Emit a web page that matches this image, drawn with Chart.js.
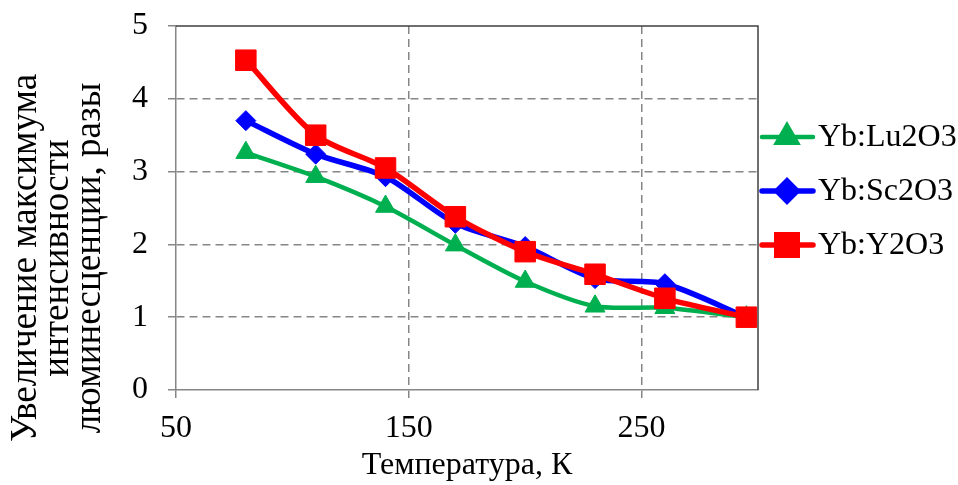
<!DOCTYPE html>
<html>
<head>
<meta charset="utf-8">
<script src="https://cdn.jsdelivr.net/npm/chart.js@4.4.1/dist/chart.umd.min.js"></script>
<style>
  html, body { margin: 0; padding: 0; background: #fff; }
  #wrap { width: 958px; height: 485px; }
</style>
</head>
<body>
<div id="wrap"><canvas id="myChart" width="958" height="485"></canvas></div>
<script>
// data
const temps = [80, 110, 140, 170, 200, 230, 260, 295]
const lu2o3 = [3.26, 2.93, 2.52, 1.99, 1.49, 1.15, 1.13, 1.0]
const sc2o3 = [3.70, 3.24, 2.93, 2.29, 1.97, 1.53, 1.46, 1.0]
const y2o3 = [4.53, 3.50, 3.05, 2.38, 1.90, 1.59, 1.26, 1.0]
const seriesNames = ["Yb:Lu2O3", "Yb:Sc2O3", "Yb:Y2O3"]
const xTickValues = [50, 150, 250]
const yTitleLines = ["Увеличение максимума", "интенсивности", "люминесценции, разы"]
const xTitle = "Температура, К"

const FONT = "'Liberation Serif', 'Times New Roman', serif"
const GRID = "#868686"

const toPoints = (vals) => vals.map((v, i) => ({x: temps[i], y: v}))

function makeSet(label, vals, color, style, radius, width, order) {
    return {
        label: label,
        data: toPoints(vals),
        borderColor: color,
        backgroundColor: color,
        borderWidth: width,
        pointStyle: style,
        pointRadius: radius,
        pointHoverRadius: radius,
        pointBorderWidth: 1,
        pointBackgroundColor: color,
        pointBorderColor: color,
        tension: 0.27,
        clip: false,
        order: order
    }
}

// frame (top + right), custom legend and the y title
const extras = {
    id: "extras",
    beforeDatasetsDraw(chart) {
        const {ctx, chartArea: a} = chart
        ctx.save()
        ctx.strokeStyle = "#404040"
        ctx.lineWidth = 1.5
        ctx.beginPath()
        ctx.moveTo(a.left, a.top)
        ctx.lineTo(a.right, a.top)
        ctx.lineTo(a.right, a.bottom)
        ctx.stroke()
        ctx.restore()
    },
    afterDraw(chart) {
        const ctx = chart.ctx
        ctx.save()
        // legend
        const legendY = [137, 191, 245]
        chart.data.datasets.forEach((ds, i) => {
            const y = legendY[i]
            ctx.strokeStyle = ds.borderColor
            ctx.lineWidth = ds.borderWidth
            ctx.lineCap = "round"
            ctx.beginPath()
            ctx.moveTo(762, y)
            ctx.lineTo(813, y)
            ctx.stroke()
            Chart.helpers.drawPoint(ctx, {
                pointStyle: ds.pointStyle,
                radius: ds.pointRadius,
                rotation: 0,
                borderWidth: 1
            }, 787, y)
            ctx.fillStyle = ds.borderColor
            ctx.fill()
            ctx.fillStyle = "#000"
            ctx.font = "32px " + FONT
            ctx.textBaseline = "middle"
            ctx.textAlign = "left"
            ctx.fillText(ds.label, 818, y + 1)
        })
        // rotated y title
        ctx.font = "37px " + FONT
        ctx.fillStyle = "#000"
        ctx.textAlign = "center"
        ctx.textBaseline = "middle"
        const xs = [26, 58, 90]
        yTitleLines.forEach((line, i) => {
            ctx.save()
            ctx.translate(xs[i], 258)
            ctx.rotate(-Math.PI / 2)
            ctx.fillText(line, 0, 0)
            ctx.restore()
        })
        ctx.restore()
    }
}

const ctx = document.getElementById('myChart').getContext('2d')
const myChart = new Chart(ctx, {
    type: 'line',
    data: {
        datasets: [
            makeSet(seriesNames[0], lu2o3, "#00B050", "triangle", 11.5, 4.5, 3),
            makeSet(seriesNames[1], sc2o3, "#0000FF", "rectRot", 10, 5.5, 2),
            makeSet(seriesNames[2], y2o3, "#FF0000", "rect", 14.5, 5.5, 1)
        ]
    },
    options: {
        responsive: false,
        animation: false,
        layout: {
            padding: {top: 26, right: 200, left: 0, bottom: 0}
        },
        plugins: {
            legend: {display: false},
            tooltip: {enabled: false}
        },
        scales: {
            x: {
                type: 'linear',
                min: 50,
                max: 300,
                afterFit: (s) => { s.height = 95; s.paddingLeft = 0; s.paddingRight = 0 },
                afterBuildTicks: (s) => { s.ticks = xTickValues.map(v => ({value: v})) },
                grid: {
                    color: (c) => c.tick && c.tick.value === 50 ? "rgba(0,0,0,0)" : GRID,
                    lineWidth: 1.5,
                    tickLength: 8,
                    tickColor: GRID,
                    tickBorderDash: [],
                    tickWidth: 1.5
                },
                border: {color: GRID, width: 1.5, dash: [8, 5]},
                ticks: {
                    color: "#000",
                    font: {family: FONT, size: 32},
                    padding: 11,
                    maxRotation: 0
                },
                title: {
                    display: true,
                    text: xTitle,
                    color: "#000",
                    font: {family: FONT, size: 32},
                    padding: {top: 0, bottom: 0}
                }
            },
            y: {
                min: 0,
                max: 5,
                afterFit: (s) => { s.width = 176; s.paddingTop = 0; s.paddingBottom = 0 },
                grid: {
                    color: (c) => c.tick && (c.tick.value === 0 || c.tick.value === 5) ? "rgba(0,0,0,0)" : GRID,
                    lineWidth: 1.5,
                    tickLength: 8,
                    tickColor: GRID,
                    tickBorderDash: [],
                    tickWidth: 1.5
                },
                border: {color: GRID, width: 1.5, dash: [8, 5]},
                ticks: {
                    stepSize: 1,
                    color: "#000",
                    font: {family: FONT, size: 32},
                    padding: 20
                }
            }
        }
    },
    plugins: [extras]
})
</script>
</body>
</html>
